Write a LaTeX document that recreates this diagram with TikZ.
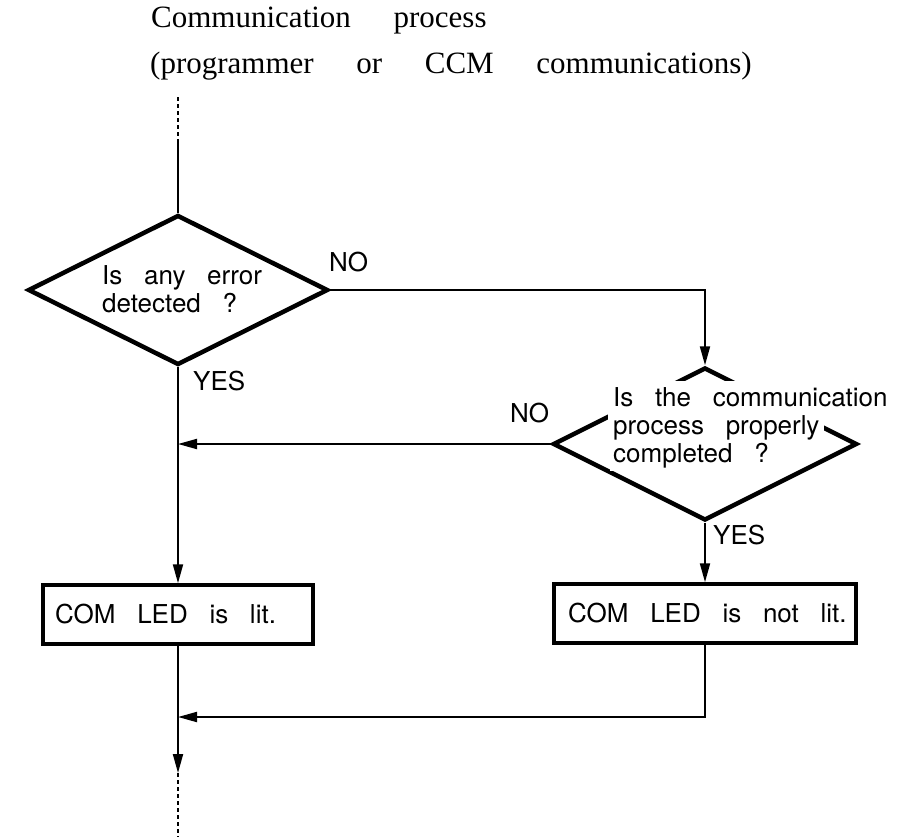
\documentclass[tikz,border=0pt]{standalone}
\usepackage{fontspec}
\usetikzlibrary{shapes.geometric,arrows.meta}
\newfontfamily\ttlfont[WordSpace=5.5]{Liberation Serif}
\newfontfamily\bdfont[WordSpace=3]{TeX Gyre Heros}
\begin{document}
\begin{tikzpicture}[x=1pt,y=-1pt,
  dia/.style={diamond, draw, line width=4.5pt, inner sep=0pt, aspect=2},
  boxst/.style={draw, rectangle, line width=3.5pt, inner sep=0pt},
  conn/.style={line width=2pt},
  arr/.style={conn, -{Triangle[length=19pt,width=10pt]}},
  dots/.style={line width=2pt, dash pattern=on 4pt off 3pt},
  txt/.style={font=\bdfont\fontsize{26}{28}\selectfont, inner sep=0pt, anchor=base west},
  mask/.style={txt, fill=white, inner xsep=3pt, inner ysep=6pt},
  ttl/.style={font=\ttlfont\fontsize{31}{36}\selectfont, inner sep=0pt, anchor=base west}]
\useasboundingbox (0,0) rectangle (923,838);

% title
\node[ttl] (t1) at (151,27) {Communication process};
\node[ttl] (t2) at (150,73) {(programmer or CCM communications)};

% decision 1
\node[dia, minimum width=300pt, minimum height=150pt] (d1) at (178,290) {};
\node[txt] (d1a) at (102,284) {Is any error};
\node[txt] (d1b) at (102,312) {detected ?};

% decision 2
\node[dia, minimum width=304pt, minimum height=153pt] (d2) at (705,444) {};
\node[mask] (d2a) at (610,406) {Is the communication};
\node[mask, inner xsep=5pt] (d2b) at (608,434) {process properly};
\node[mask, inner ysep=3pt] (d2c) at (610,462) {completed ?};

% boxes
\node[boxst, minimum width=270pt, minimum height=59pt] (b1) at (178,614.5) {};
\node[txt] (b1t) at (55,623) {COM LED is lit.};
\node[boxst, minimum width=302pt, minimum height=59pt] (b2) at (705,613.5) {};
\node[txt] (b2t) at (568,622) {COM LED is not lit.};

% labels
\node[txt] (no1) at (329,271) {NO};
\node[txt] (yes1) at (193,390) {YES};
\node[txt] (no2) at (510,422) {NO};
\node[txt] (yes2) at (713,544) {YES};

% coordinates
\coordinate (st) at (178,97);
\coordinate (st2) at (178,140);
\coordinate (mrg) at (178,717);
\coordinate (out) at (178,773);
\coordinate (fin) at (178,837);

% connectors
\draw[dots] (st) -- (st2);
\draw[conn] (st2) -- (d1.north);
\draw[arr] (d1.east) -| (d2.north);
\draw[arr] (d2.west) -- (d2.west -| d1.south);
\draw[arr] (d1.south) -- (b1.north);
\draw[arr] (d2.south) -- (b2.north);
\draw[arr] (b2.south) |- (mrg);
\draw[arr] (b1.south) -- (out);
\draw[dots] (out) -- (fin);
\end{tikzpicture}
\end{document}
